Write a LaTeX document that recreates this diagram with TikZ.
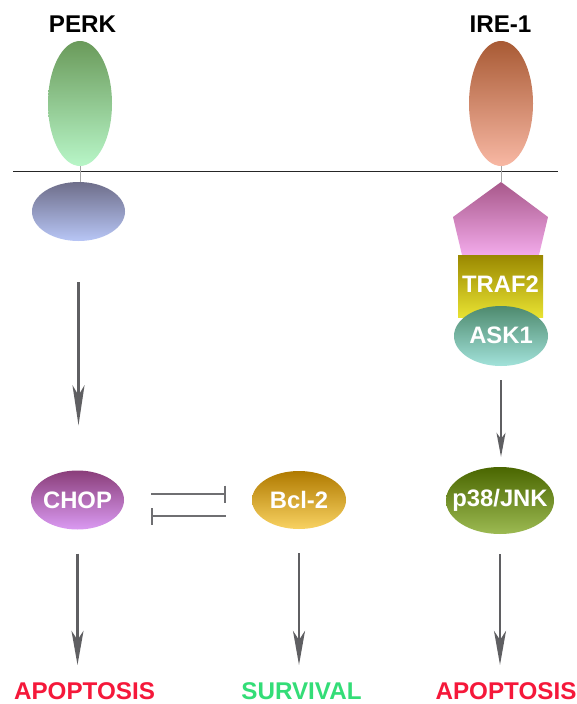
\documentclass[tikz,border=0pt]{standalone}
\usepackage{fontspec}
\setmainfont{Liberation Sans}
\usetikzlibrary{shapes.geometric,arrows.meta}
\definecolor{arrgray}{HTML}{5F5F62}
\definecolor{apored}{HTML}{F5183A}
\definecolor{survgreen}{HTML}{33DD77}
\definecolor{perkT}{HTML}{6A9A5A}\definecolor{perkB}{HTML}{B8F6C8}
\definecolor{perkcT}{HTML}{6E6E8A}\definecolor{perkcB}{HTML}{B8C6F6}
\definecolor{ireT}{HTML}{A85A34}\definecolor{ireB}{HTML}{F8B8A4}
\definecolor{pentT}{HTML}{A8588A}\definecolor{pentB}{HTML}{F2AAEA}
\definecolor{trafT}{HTML}{9A8800}\definecolor{trafB}{HTML}{E8E232}
\definecolor{askT}{HTML}{4E8A6E}\definecolor{askB}{HTML}{A2E2DA}
\definecolor{chopT}{HTML}{8A3E7A}\definecolor{chopB}{HTML}{DA9AF2}
\definecolor{bclT}{HTML}{B07A00}\definecolor{bclB}{HTML}{F8D262}
\definecolor{pT}{HTML}{4A6600}\definecolor{pB}{HTML}{9CBA52}
\tikzset{
  lab/.style={inner sep=0pt, anchor=base, font=\fontsize{24.2}{28}\selectfont\bfseries},
  prot/.style={ellipse, inner sep=0pt, draw=none, text=white, font=\fontsize{23.8}{28}\selectfont\bfseries},
  stem/.style={draw=gray!70, line width=1pt},
  arrbig/.style={draw=arrgray, line width=2.3pt, -{Stealth[length=34pt,width=12pt,inset=9pt]}},
  arrsmall/.style={draw=arrgray, line width=1.6pt, -{Stealth[length=24pt,width=9pt,inset=6pt]}},
  inh/.style={draw=arrgray!90, line width=1.5pt, -{Bar[width=17pt,line width=1.5pt]}},
}
\begin{document}
\begin{tikzpicture}[x=1pt,y=-1pt]
\fill[white] (0,0) rectangle (576,704);
\useasboundingbox (0,0) rectangle (576,704);

% titles
\node[lab] (perklab) at (82.5,32) {PERK};
\node[lab] (irelab) at (500.5,32) {IRE-1};

% membrane
\draw[line width=1pt, black!85] (13,171) -- (558,171);

% PERK branch
\node[prot, minimum width=64pt, minimum height=125pt, top color=perkT, bottom color=perkB] (perk) at (80,103.5) {};
\node[prot, minimum width=93pt, minimum height=59pt, top color=perkcT, bottom color=perkcB] (perkc) at (78.5,211.5) {};
\draw[stem] (perk.south) -- (perk.south |- perkc.north);

% IRE-1 branch
\node[prot, minimum width=64pt, minimum height=125pt, top color=ireT, bottom color=ireB] (ire) at (501,103.5) {};
\coordinate (pent) at (501,182);
\shade[top color=pentT, bottom color=pentB] (pent) -- (548,217) -- (539,255) -- (462,255) -- (453,217) -- cycle;
\draw[stem] (ire.south) -- (pent);
\node[rectangle, inner sep=0pt, minimum width=85pt, minimum height=62pt, top color=trafT, bottom color=trafB, text=white, font=\fontsize{23.8}{28}\selectfont\bfseries] (traf) at (500.5,286) {\raisebox{4.5pt}{TRAF2}};
\node[prot, minimum width=94pt, minimum height=60pt, top color=askT, bottom color=askB] (ask) at (501,336) {\raisebox{2.5pt}{\makebox[0pt]{ASK1}}};

% middle row
\node[prot, minimum width=93pt, minimum height=59pt, top color=chopT, bottom color=chopB] (chop) at (77.5,500) {\makebox[0pt]{CHOP}};
\node[prot, minimum width=94pt, minimum height=58pt, top color=bclT, bottom color=bclB] (bcl) at (299,500) {\makebox[0pt]{Bcl-2}};
\node[prot, minimum width=108pt, minimum height=67pt, top color=pT, bottom color=pB] (p38) at (500,500.5) {\makebox[0pt]{p38/JNK}};

% outcomes
\node[lab, text=apored] (apo1) at (84.5,699) {APOPTOSIS};
\node[lab, text=survgreen] (surv) at (301.5,699) {SURVIVAL};
\node[lab, text=apored] (apo2) at (506,699) {APOPTOSIS};

% arrows
\draw[draw=arrgray, line width=2.5pt, -{Stealth[length=40pt,width=12pt,inset=10pt]}, shorten <=41pt, shorten >=45pt] (perkc.south) -- (perkc.south |- chop.north);
\draw[arrsmall, shorten <=14pt, shorten >=10pt] (ask.south) -- (ask.south |- p38.north);
\draw[arrbig, shorten <=24pt, shorten >=17pt] (chop.south) -- (chop.south |- apo1.north);
\draw[arrbig, shorten <=24pt, shorten >=17pt] (bcl.south) -- (bcl.south |- surv.north);
\draw[arrbig, shorten <=20pt, shorten >=17pt] (p38.south) -- (p38.south |- apo2.north);

% mutual inhibition
\draw[inh, shorten <=27pt, shorten >=26pt] ([yshift=6pt]chop.east) -- ([yshift=6pt]chop.east -| bcl.west);
\draw[inh, shorten <=26pt, shorten >=27pt] ([yshift=-16pt]chop.east -| bcl.west) -- ([yshift=-16pt]chop.east);
\end{tikzpicture}
\end{document}
